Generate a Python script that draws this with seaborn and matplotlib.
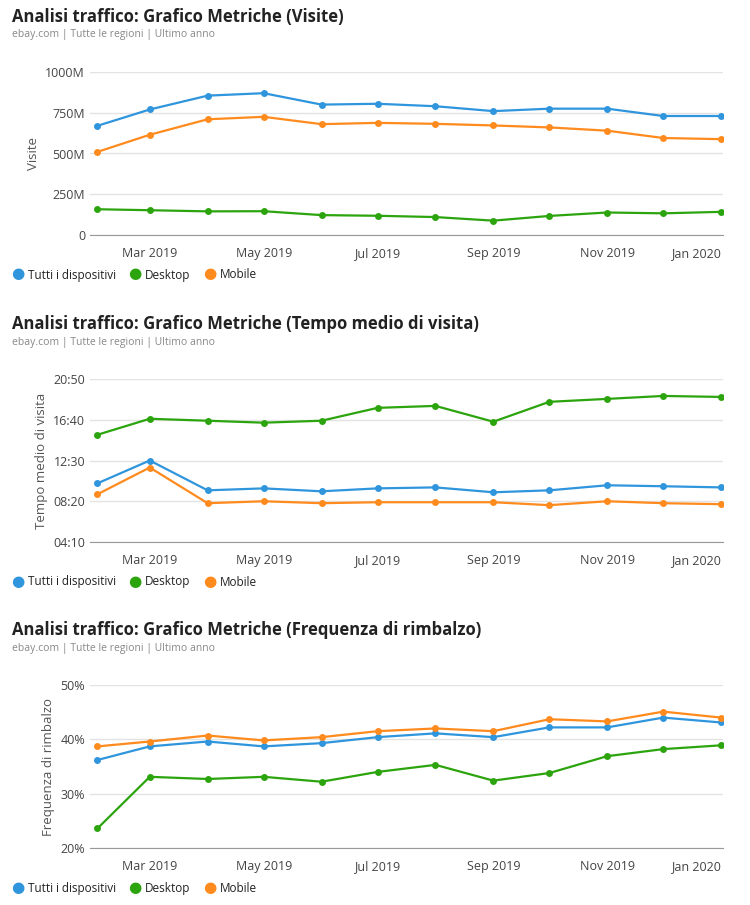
import pandas as pd
import matplotlib.pyplot as plt
import matplotlib.dates as mdates
from matplotlib.ticker import FuncFormatter
import seaborn as sns

months = pd.date_range("2019-02-01", "2020-01-01", freq="MS")

visits_total = [670, 770, 855, 870, 800, 805, 790, 760, 775, 775, 730, 730]
visits_desktop = [158, 152, 145, 146, 122, 118, 110, 88, 117, 138, 133, 142]
visits_mobile = [510, 615, 710, 725, 680, 688, 682, 672, 660, 640, 595, 588]

# seconds
time_total = [610, 750, 567, 579, 561, 579, 585, 555, 567, 598, 592, 585]
time_desktop = [908, 1006, 994, 982, 994, 1073, 1085, 988, 1110, 1128, 1146, 1140]
time_mobile = [543, 707, 488, 500, 488, 494, 494, 494, 476, 500, 488, 482]

bounce_total = [36.2, 38.7, 39.6, 38.7, 39.3, 40.4, 41.1, 40.4, 42.2, 42.2, 44.0, 43.1]
bounce_desktop = [23.6, 33.1, 32.7, 33.1, 32.2, 34.0, 35.3, 32.4, 33.8, 36.9, 38.2, 38.9]
bounce_mobile = [38.7, 39.6, 40.7, 39.8, 40.4, 41.5, 42.0, 41.5, 43.7, 43.3, 45.1, 44.0]

series_names = ["Tutti i dispositivi", "Desktop", "Mobile"]
colors = {"Tutti i dispositivi": "#2f95dc", "Desktop": "#2ca40e", "Mobile": "#ff8a1d"}

sns.set_style("white")
plt.rcParams['font.family'] = ['Open Sans', 'DejaVu Sans']

fig = plt.figure(figsize=(7.5, 9.05), dpi=100)

panels = [
    ("Analisi traffico: Grafico Metriche (Visite)", "Visite",
     [visits_total, visits_desktop, visits_mobile], (0, 1000), [0, 250, 500, 750, 1000],
     lambda v, p: "0" if v == 0 else f"{int(v)}M", 17),
    ("Analisi traffico: Grafico Metriche (Tempo medio di visita)", "Tempo medio di visita",
     [time_total, time_desktop, time_mobile], (250, 1250), [250, 500, 750, 1000, 1250],
     lambda v, p: f"{int(v)//60:02d}:{int(v)%60:02d}", 324),
    ("Analisi traffico: Grafico Metriche (Frequenza di rimbalzo)", "Frequenza di rimbalzo",
     [bounce_total, bounce_desktop, bounce_mobile], (20, 50), [20, 30, 40, 50],
     lambda v, p: f"{int(v)}%", 630),
]

for title, ylabel, data, ylim, yticks, fmt, top_px in panels:
    ax_top = top_px + 55
    ax_bottom = ax_top + 163
    ax = fig.add_axes([90 / 750, 1 - ax_bottom / 905, 633 / 750, 163 / 905])
    df = pd.DataFrame({"date": list(months) * 3,
                       "value": data[0] + data[1] + data[2],
                       "series": sum([[n] * 12 for n in series_names], [])})
    sns.lineplot(data=df, x="date", y="value", hue="series", palette=colors,
                 marker="o", markersize=5, markeredgewidth=0, linewidth=1.6,
                 legend=False, ax=ax)
    ax.set_xlim(pd.Timestamp("2019-01-28"), pd.Timestamp("2020-01-02"))
    ax.set_ylim(*ylim)
    ax.set_yticks(yticks)
    ax.yaxis.set_major_formatter(FuncFormatter(fmt))
    ax.xaxis.set_major_locator(mdates.MonthLocator(bymonth=[1, 3, 5, 7, 9, 11]))
    ax.xaxis.set_major_formatter(mdates.DateFormatter("%b %Y"))
    ax.grid(axis="y", color="#e3e3e3", linewidth=1)
    for s in ["top", "right", "left"]:
        ax.spines[s].set_visible(False)
    ax.spines["bottom"].set_color("#999999")
    ax.tick_params(axis="x", length=5, color="#999999", labelsize=9, labelcolor="#444444")
    ax.tick_params(axis="y", length=0, labelsize=9, labelcolor="#444444")
    ax.set_xlabel("")
    ax.set_ylabel(ylabel, fontsize=9.5, color="#555555")
    fig.canvas.draw()
    ax.get_xticklabels()[-1].set_ha("right")

    fig.text(12 / 750, 1 - top_px / 905, title, fontsize=12, fontweight="bold",
             color="#222222", va="center")
    fig.text(12 / 750, 1 - (top_px + 18) / 905, "ebay.com | Tutte le regioni | Ultimo anno",
             fontsize=7.5, color="#888888", va="center")
    leg_y = 1 - (top_px + 258) / 905
    x = 18
    for name, w in zip(series_names, [117, 75, 80]):
        fig.text(x / 750, leg_y, "●", color=colors[name], fontsize=11, va="center", ha="center")
        fig.text((x + 10) / 750, leg_y, name, fontsize=8.5, color="#222222", va="center")
        x += w

fig.savefig("out.png", dpi=100)
